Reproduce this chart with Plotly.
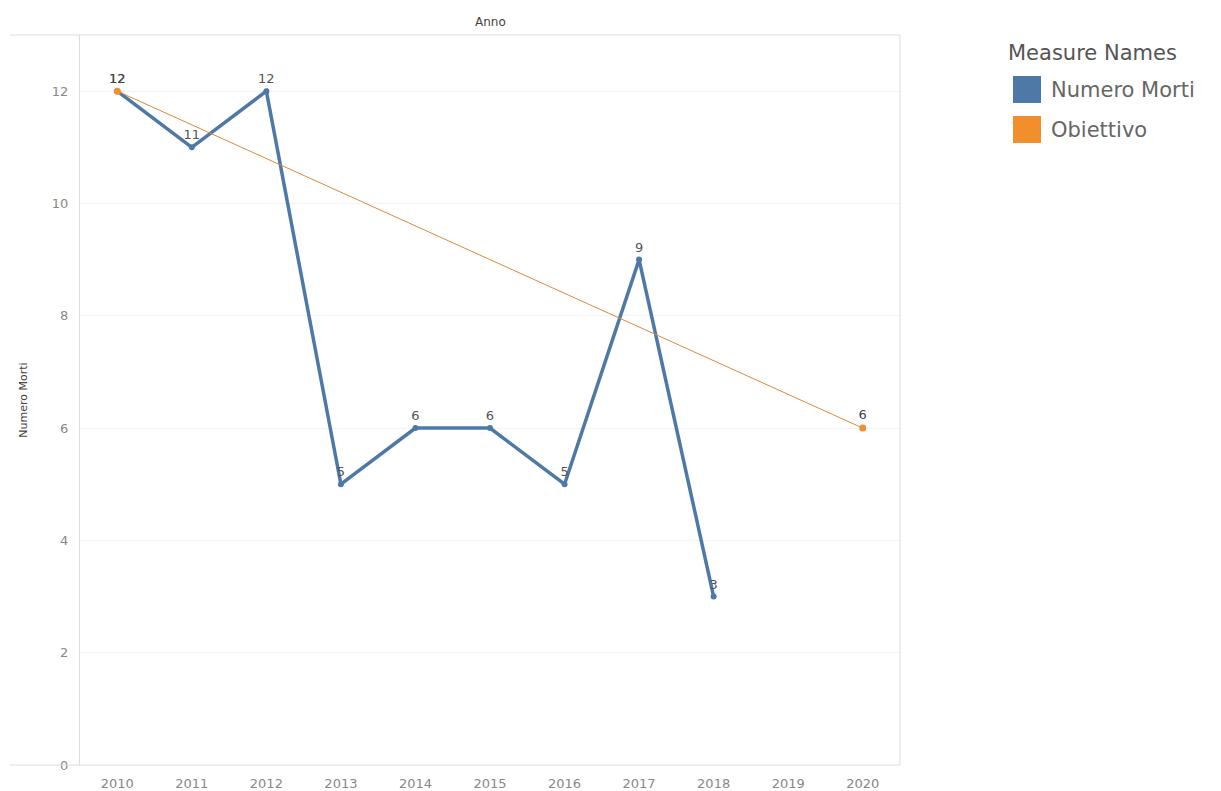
import plotly.graph_objects as go

years = [2010, 2011, 2012, 2013, 2014, 2015, 2016, 2017, 2018]
numero_morti = [12, 11, 12, 5, 6, 6, 5, 9, 3]
obiettivo_years = [2010, 2020]
obiettivo = [12, 6]
x_ticks = list(range(2010, 2021))
y_ticks = [0, 2, 4, 6, 8, 10, 12]
legend_title = "Measure Names"
legend_names = ["Numero Morti", "Obiettivo"]

BLUE = "#4e79a7"
ORANGE = "#f28e2b"
legend_colors = [BLUE, ORANGE]
FONT = "DejaVu Sans, Open Sans, sans-serif"

W, H = 1221, 791
ML, MR, MT, MB = 80, 321, 35, 26
PW, PH = W - ML - MR, H - MT - MB


def px(x):
    return (x - ML) / PW


def py(y):
    return (H - MB - y) / PH


fig = go.Figure()
fig.add_trace(go.Scatter(
    x=years, y=numero_morti, mode="lines+markers+text", name=legend_names[0],
    line=dict(color=BLUE, width=3.5), marker=dict(color=BLUE, size=6),
    text=[str(v) for v in numero_morti], textposition="top center",
    textfont=dict(size=13, color="#555"), showlegend=False, hoverinfo="x+y"))
fig.add_trace(go.Scatter(
    x=obiettivo_years, y=obiettivo, mode="lines+markers+text", name=legend_names[1],
    line=dict(color="#d98a3a", width=1), marker=dict(color=ORANGE, size=7),
    text=[str(v) for v in obiettivo], textposition="top center",
    textfont=dict(size=13, color="#444"), showlegend=False, hoverinfo="x+y"))

shapes = [
    dict(type="line", xref="paper", yref="paper", x0=px(10), x1=1, y0=1, y1=1,
         line=dict(color="#dcdcdc", width=1)),
    dict(type="line", xref="paper", yref="paper", x0=px(10), x1=1, y0=0, y1=0,
         line=dict(color="#dcdcdc", width=1)),
    dict(type="line", xref="paper", yref="paper", x0=1, x1=1, y0=0, y1=1,
         line=dict(color="#dcdcdc", width=1)),
]
annotations = [dict(text="Anno", xref="paper", yref="paper", x=0.5, y=1, yanchor="bottom",
                    yshift=4, showarrow=False, font=dict(size=12, color="#444"))]

# manual legend
annotations.append(dict(text=legend_title, xref="paper", yref="paper", x=px(1006), y=py(53),
                        xanchor="left", yanchor="middle", showarrow=False,
                        font=dict(size=21, color="#555")))
for i, (name, col) in enumerate(zip(legend_names, legend_colors)):
    top = 76 + i * 40
    shapes.append(dict(type="rect", xref="paper", yref="paper", x0=px(1013), x1=px(1041),
                       y0=py(top + 27), y1=py(top), fillcolor=col, line=dict(width=0)))
    annotations.append(dict(text=name, xref="paper", yref="paper", x=px(1049), y=py(top + 13.5),
                            xanchor="left", yanchor="middle", showarrow=False,
                            font=dict(size=21, color="#666")))

fig.update_layout(
    width=W, height=H,
    margin=dict(l=ML, r=MR, t=MT, b=MB),
    plot_bgcolor="white", paper_bgcolor="white",
    font=dict(family=FONT, color="#666"),
    showlegend=False,
    xaxis=dict(range=[2009.5, 2020.5], tickvals=x_ticks, ticktext=[str(t) for t in x_ticks],
               showgrid=False, zeroline=False, showline=False, automargin=False,
               tickfont=dict(size=13, color="#888"), ticks="outside",
               tickcolor="rgba(0,0,0,0)", ticklen=6),
    yaxis=dict(range=[0, 13], tickvals=y_ticks, showgrid=True, gridcolor="#f3f3f3",
               zeroline=False, showline=True, linecolor="#dcdcdc", linewidth=1,
               automargin=False,
               tickfont=dict(size=13, color="#888"), ticks="outside",
               tickcolor="rgba(0,0,0,0)", ticklen=8,
               title=dict(text="Numero Morti", font=dict(size=11, color="#444"), standoff=22)),
    shapes=shapes,
    annotations=annotations,
)
fig.write_html("out.html")
